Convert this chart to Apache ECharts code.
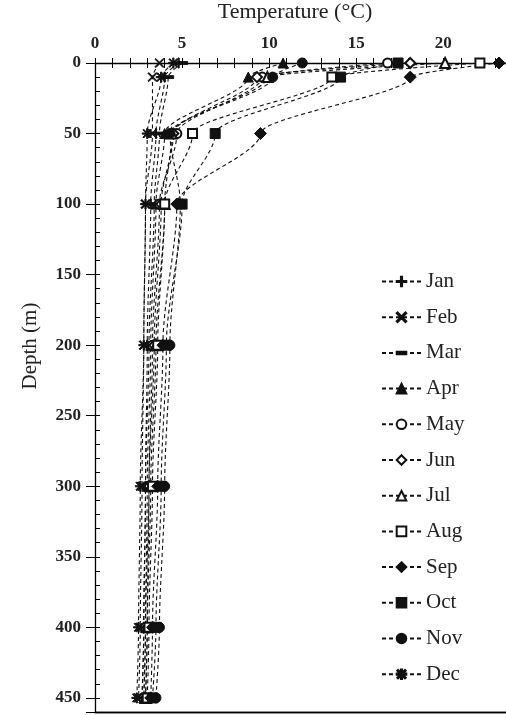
<!DOCTYPE html>
<html>
<head>
<meta charset="utf-8">
<script src="https://cdn.jsdelivr.net/npm/echarts@6/dist/echarts.min.js"></script>
<style>
  html, body { margin: 0; padding: 0; background: #fff; }
  #chart { width: 506px; height: 715px; }
</style>
</head>
<body>
<div id="chart"></div>
<script>
// Monthly temperature profiles, depth (m) vs temperature (°C)
const depth = [0, 10, 50, 100, 200, 300, 400, 450];
const jan = [4.8, 4.0, 3.5, 3.2, 3.0, 2.9, 2.8, 2.7];
const feb = [3.7, 3.3, 3.3, 2.9, 2.8, 2.7, 2.6, 2.5];
const mar = [5.0, 4.2, 3.7, 3.4, 3.1, 2.9, 2.8, 2.7];
const apr = [10.8, 8.8, 4.0, 3.5, 3.2, 3.0, 2.9, 2.8];
const may = [16.8, 9.6, 4.7, 3.7, 3.3, 3.1, 2.9, 2.8];
const jun = [18.1, 9.3, 4.5, 3.8, 3.4, 3.1, 3.0, 2.9];
const jul = [20.1, 9.9, 4.4, 4.0, 3.5, 3.2, 3.0, 2.9];
const aug = [22.1, 13.6, 5.6, 4.0, 3.6, 3.3, 3.1, 3.0];
const sep = [23.2, 18.1, 9.5, 4.7, 3.9, 3.6, 3.3, 3.2];
const oct = [17.4, 14.1, 6.9, 5.0, 4.1, 3.8, 3.5, 3.3];
const nov = [11.9, 10.2, 4.3, 4.9, 4.3, 4.0, 3.7, 3.5];
const dec = [4.5, 3.8, 3.0, 2.9, 2.8, 2.6, 2.5, 2.4];

const months = ['Jan', 'Feb', 'Mar', 'Apr', 'May', 'Jun', 'Jul', 'Aug', 'Sep', 'Oct', 'Nov', 'Dec'];
const profiles = [jan, feb, mar, apr, may, jun, jul, aug, sep, oct, nov, dec];

const xTicks = [0, 5, 10, 15, 20];
const depthTicks = [0, 50, 100, 150, 200, 250, 300, 350, 400, 450];
const depthFloor = 460;

// 线符号用细多边形画，保证缩放后线宽不变
const PLUS = 'path://M4.4,0H5.6V10H4.4Z M0,4.4H10V5.6H0Z';
const CROSS = 'path://M0,0.9L0.9,0L10,9.1L9.1,10Z M9.1,0L10,0.9L0.9,10L0,9.1Z';
const BAR = 'path://M0,0L0.01,0Z M0,10L0.01,10Z M0,3.7H10V6.3H0Z';
const STAR = 'path://M4.4,0H5.6V10H4.4Z M0,4.4H10V5.6H0Z M0.6,1.4L1.4,0.6L9.4,8.6L8.6,9.4Z M8.6,0.6L9.4,1.4L1.4,9.4L0.6,8.6Z';

const marks = [
  [PLUS, 10], [CROSS, 9], [BAR, 11], ['triangle', 10], ['emptyCircle', 9], ['emptyDiamond', 10],
  ['emptyTriangle', 10], ['emptyRect', 9], ['diamond', 12], ['rect', 10], ['circle', 10], [STAR, 10],
];

const INK = '#111';
const SERIF = '"Liberation Serif", "DejaVu Serif", serif';

const series = months.map((m, i) => ({
  name: m,
  type: 'line',
  data: profiles[i].map((t, k) => [t, depth[k]]),
  smooth: 0.3,
  smoothMonotone: 'y',
  symbol: marks[i][0],
  symbolSize: marks[i][1],
  showAllSymbol: true,
  clip: false,
  lineStyle: { color: INK, width: 1.1, type: [4, 3] },
  itemStyle: { color: INK, borderColor: INK, borderWidth: 1 },
  emphasis: { disabled: true },
  z: 3,
}));

// 底边框（备用方案：标线）
series[0].markLine = {
  silent: true, symbol: ['none', 'none'], animation: false,
  label: { show: false },
  lineStyle: { color: '#000', type: 'solid', width: 1.3 },
  data: [[{ coord: [0, depthFloor] }, { coord: [24, depthFloor] }]],
};

const line = { color: '#000', width: 1.3 };
const tick = { color: '#000' };

const chart = echarts.init(document.getElementById('chart'));
chart.setOption({
  animation: false,
  backgroundColor: '#fff',
  grid: { left: 95, top: 63, right: -7, bottom: 3, outerBoundsMode: 'none', containLabel: false },
  xAxis: [
    {
      type: 'value', position: 'top', min: 0, max: 24, interval: 5,
      axisLine: { onZero: false, lineStyle: line },
      axisTick: { show: true, length: 5, lineStyle: tick },
      minorTick: { show: true, splitNumber: 5, length: 5, lineStyle: tick },
      axisLabel: {
        color: '#222', fontFamily: SERIF, fontSize: 17, fontWeight: 'bold', margin: 11,
        formatter: v => (xTicks.includes(v) ? String(v) : ''),
      },
      splitLine: { show: false },
    },
    {
      type: 'value', position: 'top', min: 0, max: 24, interval: 5,
      axisLine: { show: false, onZero: false },
      axisTick: { show: true, inside: true, length: 5, lineStyle: tick },
      minorTick: { show: true, splitNumber: 5, length: 5, lineStyle: tick },
      axisLabel: { show: false },
      splitLine: { show: false },
    },
    {
      type: 'value', position: 'bottom', min: 0, max: 24, interval: 5,
      axisLine: { show: true, onZero: false, lineStyle: line },
      axisTick: { show: false },
      axisLabel: { show: false },
      splitLine: { show: false },
    },
  ],
  yAxis: [
    {
      type: 'value', position: 'left', inverse: true, min: 0, max: depthFloor, interval: 50,
      axisLine: { show: true, onZero: false, lineStyle: line },
      axisTick: { show: true, length: 9, lineStyle: tick },
      axisLabel: {
        color: '#222', fontFamily: SERIF, fontSize: 17, fontWeight: 'bold', margin: 14,
        formatter: v => (depthTicks.includes(v) ? String(v) : ''),
      },
      splitLine: { show: false },
    },
    {
      // 内侧细刻度，每 10 m 一根
      type: 'value', position: 'left', inverse: true, min: 0, max: depthFloor, interval: 10,
      axisLine: { show: false, onZero: false },
      axisTick: { show: true, inside: true, length: 5, lineStyle: tick },
      axisLabel: { show: false },
      splitLine: { show: false },
    },
  ],
  legend: {
    orient: 'vertical', left: 381, top: 271, padding: 0,
    itemWidth: 39, itemHeight: 12, itemGap: 14.7,
    data: months,
    textStyle: { color: '#222', fontFamily: SERIF, fontSize: 21 },
    selectedMode: false,
  },
  graphic: [
    {
      type: 'text', x: 295, y: 12,
      style: { text: 'Temperature (°C)', align: 'center', verticalAlign: 'middle', fill: '#222', font: '22px ' + SERIF },
    },
    {
      type: 'text', x: 30, y: 346, rotation: Math.PI / 2,
      style: { text: 'Depth (m)', align: 'center', verticalAlign: 'middle', fill: '#222', font: '21px ' + SERIF },
    },
  ],
  series,
});
</script>
</body>
</html>
